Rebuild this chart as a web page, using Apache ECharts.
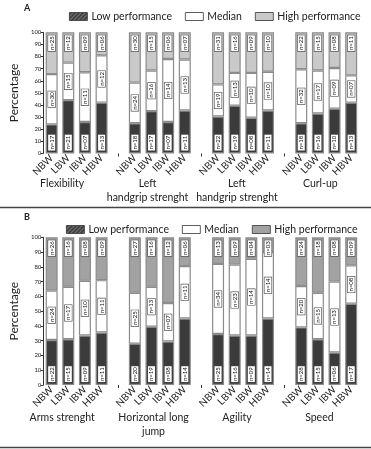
<!DOCTYPE html>
<html><head><meta charset="utf-8">
<script src="https://cdn.jsdelivr.net/npm/echarts@6/dist/echarts.min.js"></script>
<style>html,body{margin:0;padding:0;background:#fff}#c{width:371px;height:449px}</style>
</head><body><div id="c"></div>
<script>
const categories = ['NBW','LBW','IBW','HBW','', 'NBW','LBW','IBW','HBW','', 'NBW','LBW','IBW','HBW','', 'NBW','LBW','IBW','HBW'];
const groupsA = ['Flexibility','Left\nhandgrip strenght','Left\nhandgrip strenght','Curl-up'];
const groupsB = ['Arms strenght','Horizontal long\njump','Agility','Speed'];
const yTicks = [0,10,20,30,40,50,60,70,80,90,100];

// Panel A percentages
const lowA  = [24,44,26,42,'-', 25,35,26,35.5,'-', 30.5,39.5,29.5,35.5,'-', 25,33,37,42];
const medA  = [41.5,31,41,39,'-', 33.5,33.5,52,42,'-', 26.5,27,37,32,'-', 44.5,35.5,33.5,22.5];
const highA = [34.5,25,33,19,'-', 41.5,31.5,22,22.5,'-', 43,33.5,33.5,32.5,'-', 30.5,31.5,29.5,35.5];
// Panel B percentages
const lowB  = [30.5,31,33.5,35.5,'-', 28,39.5,29.5,45,'-', 34.5,33.5,33.5,45,'-', 39,31,22,55];
const medB  = [33.5,35.5,37,35.5,'-', 34.5,27,26,35.5,'-', 47.5,48,52,45,'-', 28,31.5,48,26];
const highB = [36,33.5,29.5,29,'-', 37.5,33.5,44.5,19.5,'-', 18,18.5,14.5,10,'-', 33,37.5,30,19];

// counts shown in bars
const nLowA  = ['17','21','07','13','', '18','17','07','11','', '22','19','08','11','', '18','16','10','13'];
const nMedA  = ['30','15','11','12','', '24','16','14','13','', '19','13','10','10','', '32','17','09','07'];
const nHighA = ['25','12','09','06','', '30','15','06','07','', '31','16','09','10','', '22','15','08','11'];
const nLowB  = ['22','15','09','11','', '20','19','08','14','', '25','16','09','14','', '28','15','06','17'];
const nMedB  = ['24','17','10','11','', '25','13','07','11','', '34','23','14','14','', '20','15','13','08'];
const nHighB = ['26','16','08','09','', '27','16','12','06','', '13','09','04','03','', '24','18','08','09'];

const FONT = 'Lato';
const LOW = '#3b3b3b', MED = '#ffffff', HIGHA = '#c9c9c9', HIGHB = '#a2a2a2', BORDER = '#8c8c8c';

const hatch = document.createElement('canvas');
hatch.width = 4; hatch.height = 4;
(function(){const c=hatch.getContext('2d');c.fillStyle='#3b3b3b';c.fillRect(0,0,4,4);c.strokeStyle='#9a9a9a';c.lineWidth=1;c.beginPath();c.moveTo(0,4);c.lineTo(4,0);c.stroke();})();

function lab(pos, arr){
  return {
    show:true, position:pos, rotate:90,
    align: pos==='insideBottom'?'left':(pos==='insideTop'?'right':'center'),
    verticalAlign:'middle', distance:3, fontSize:6, fontFamily:FONT, color:'#111',
    backgroundColor:'#fff', borderColor:'#444', borderWidth:0.6, padding:[1,1,0,1],
    formatter: p => 'n=' + arr[p.dataIndex]
  };
}
function ser(name, data, color, stack, gi, label){
  return {name, type:'bar', stack, xAxisIndex:gi, yAxisIndex:gi, data, barWidth:12,
    itemStyle:{color, borderColor:BORDER, borderWidth:1.2}, label, animation:false};
}

const grids = [{left:35, right:11.5, top:32.3, height:121.2},{left:35, right:11.5, top:237.3, height:147.7}];
function xAx(gi){return {type:'category', gridIndex:gi, data:categories,
  axisLine:{show:false}, axisTick:{show:true, alignWithLabel:true, length:3, lineStyle:{color:'#333'}, interval:(i)=>categories[i]===''},
  axisLabel:{rotate:45, fontSize:10, fontFamily:FONT, color:'#222', margin:3, interval:0}};}
function yAx(gi){return {type:'value', gridIndex:gi, min:0, max:100, interval:10, name:'Percentage', nameLocation:'middle', nameGap:17,
  nameTextStyle:{fontSize:12, fontFamily:FONT, color:'#222'},
  axisLine:{show:true, lineStyle:{color:'#333', width:1}}, axisTick:{show:true, length:2.5, lineStyle:{color:'#333'}},
  axisLabel:{fontSize:6, fontFamily:FONT, color:'#222', margin:2, formatter:v=> yTicks.includes(v)? String(v):''}, splitLine:{show:false}};}

const slot = (371-35-11.5)/categories.length;
function gx(g){ return 35 + slot*(g*5 + 2) ; }
const graphics = [];
const shiftA = [-7,-7,-3,-5];
const shiftB = [-7,-1,-3,-6];
groupsA.forEach((t,g)=>graphics.push({type:'text', x:gx(g)+shiftA[g], y:177, style:{text:t, fill:'#222', font:'10.5px '+FONT, textAlign:'center', lineHeight:14}}));
groupsB.forEach((t,g)=>graphics.push({type:'text', x:gx(g)+shiftB[g], y:411, style:{text:t, fill:'#222', font:'10.5px '+FONT, textAlign:'center', lineHeight:14}}));
graphics.push({type:'text', x:24, y:4, style:{text:'A', fill:'#222', font:'bold 9px '+FONT}});
graphics.push({type:'text', x:24, y:213, style:{text:'B', fill:'#222', font:'bold 9px '+FONT}});
graphics.push({type:'line', shape:{x1:0,y1:207.5,x2:371,y2:207.5}, style:{stroke:'#444', lineWidth:1.5}});
graphics.push({type:'line', shape:{x1:0,y1:447.5,x2:371,y2:447.5}, style:{stroke:'#444', lineWidth:1.5}});

function legend(top, left, highColor){
  return {top, left, itemWidth:18, itemHeight:8, itemGap:13, icon:'rect',
    textStyle:{fontSize:10.5, fontFamily:FONT, color:'#222', padding:[0,0,0,-1]},
    itemStyle:{borderColor:'#333', borderWidth:0.8},
    selectedMode:false,
    data:[{name:'Low performance', itemStyle:{color:{image:hatch, repeat:'repeat'}}},
          {name:'Median', itemStyle:{color:'#fff'}},
          {name:'High performance', itemStyle:{color:highColor}}]};
}

const chart = echarts.init(document.getElementById('c'), null, {renderer:'canvas'});
chart.setOption({
  animation:false,
  textStyle:{fontFamily:FONT},
  grid:grids,
  legend:[legend(6,64,HIGHA), legend(219,61,HIGHB)],
  xAxis:[xAx(0), xAx(1)],
  yAxis:[yAx(0), yAx(1)],
  series:[
    ser('Low performance', lowA, LOW, 'a', 0, lab('insideBottom', nLowA)),
    ser('Median', medA, MED, 'a', 0, lab('inside', nMedA)),
    ser('High performance', highA, HIGHA, 'a', 0, lab('insideTop', nHighA)),
    ser('Low performance', lowB, LOW, 'b', 1, lab('insideBottom', nLowB)),
    ser('Median', medB, MED, 'b', 1, lab('inside', nMedB)),
    ser('High performance', highB, HIGHB, 'b', 1, lab('insideTop', nHighB))
  ],
  graphic:graphics
});
</script></body></html>
